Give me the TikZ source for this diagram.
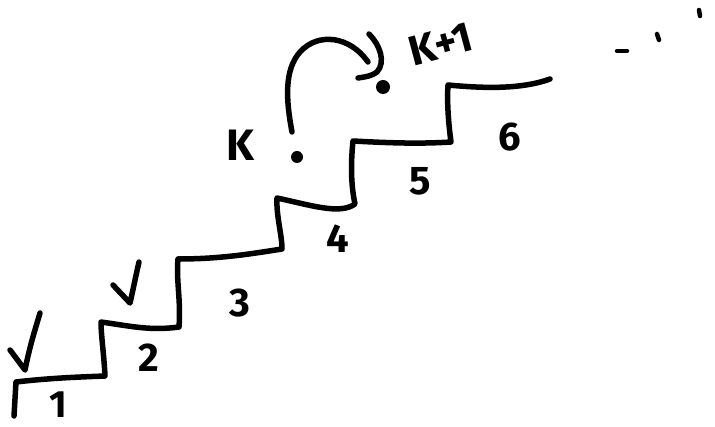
\documentclass[tikz,border=0pt]{standalone}
\usepackage{fontspec}
\setmainfont{Fira Sans}
\begin{document}
\begin{tikzpicture}[x=1pt,y=-1pt,
  ink/.style={line width=5.5pt,line cap=round,line join=round},
  lbl/.style={font=\fontsize{40}{40}\selectfont\bfseries,inner sep=0pt}]
\useasboundingbox[fill=white] (0,0) rectangle (715,427);
% staircase
\draw[ink] (14,416) -- (16,382) .. controls (50,378) and (80,377) .. (105,376)
  .. controls (104,355) and (101,335) .. (101,322)
  .. controls (130,326) and (150,331) .. (179,327)
  .. controls (181,300) and (176,280) .. (178,259)
  .. controls (220,259) and (250,254) .. (282,249)
  .. controls (282,235) and (276,215) .. (277,198)
  .. controls (310,205) and (340,215) .. (355,204)
  .. controls (352,190) and (350,170) .. (353,141)
  .. controls (390,143) and (420,144) .. (451,142)
  .. controls (448,120) and (447,100) .. (448,85)
  .. controls (480,88) and (520,90) .. (550,79);
% step labels
\node[lbl,font=\fontsize{38}{38}\selectfont\bfseries] (s1) at (58,405) {1};
\node[lbl] (s2) at (149,358) {2};
\node[lbl] (s3) at (240,303) {3};
\node[lbl] (s4) at (338,239) {4};
\node[lbl] (s5) at (420,181) {5};
\node[lbl] (s6) at (510,137) {6};
% check marks
\draw[ink] (10,350) -- (25,370) .. controls (30,345) and (35,330) .. (40,313);
\draw[ink] (113,285) -- (130,303) .. controls (133,290) and (136,275) .. (139,262);
% dots on steps
\fill (297,157) circle (6);
\fill (383,87) circle (7);
% labels k, k+1
\node[lbl,font=\fontsize{44}{44}\selectfont\bfseries] (k) at (240,145) {K};
\node[lbl,font=\fontsize{42}{42}\selectfont\bfseries,rotate=15] (k1) at (441,44) {K+1};
% jump arrow
\draw[ink] (292,132) .. controls (286,100) and (284,70) .. (300,52)
  .. controls (318,32) and (350,36) .. (368,62);
\draw[ink] (369,34) .. controls (380,45) and (386,62) .. (377,72)
  .. controls (372,76) and (365,77) .. (358,78);
% ellipsis
\draw[ink,line width=4.5pt] (617,51) -- (627,51);
\draw[ink,line width=4.5pt] (657,34) -- (659,40);
\draw[ink,line width=4.5pt] (699,10) -- (700,16);
\end{tikzpicture}
\end{document}
